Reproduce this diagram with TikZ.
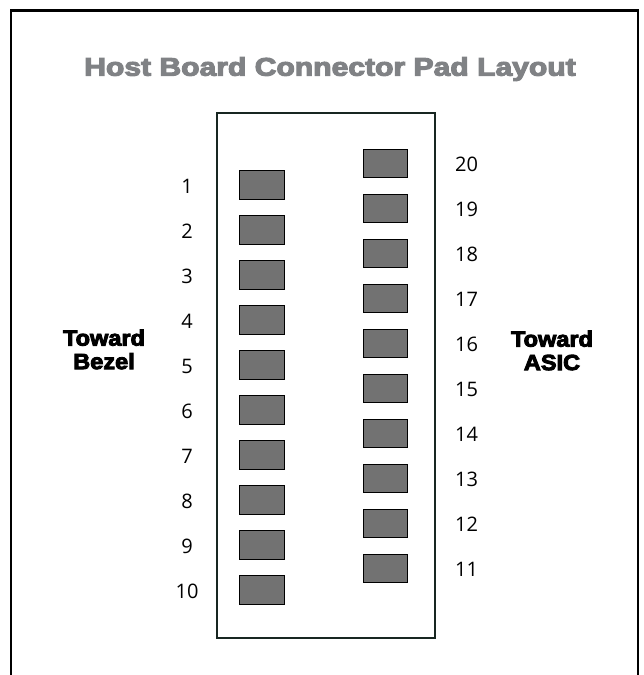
\documentclass[tikz,border=0pt]{standalone}
\usepackage{fontspec}
\setmainfont{Open Sans}
\newfontfamily\heavyfont{Liberation Sans}[BoldFeatures={FakeBold=4}]

\definecolor{titlegray}{RGB}{128,130,133}
\definecolor{padgray}{RGB}{114,114,114}
\definecolor{boardline}{RGB}{24,38,33}

\begin{document}
\begin{tikzpicture}[x=1pt,y=-1pt,
  pad/.style={draw=black, line width=0.9pt, fill=padgray, minimum width=44.5pt, minimum height=28.5pt, inner sep=0pt},
  padnum/.style={font=\fontsize{20}{24}\selectfont, inner sep=0pt},
  side/.style={font=\heavyfont\bfseries\fontsize{22}{23.5}\selectfont, align=center, inner sep=0pt}]

\useasboundingbox (0,0) rectangle (644,675);

% outer frame, open at the bottom
\draw[line width=2.2pt, black] (11,675) -- (11,10.5) -- (638,10.5) -- (638,675);

\node[anchor=base, text=titlegray, inner sep=0pt, font=\heavyfont\bfseries\fontsize{25.5}{28}\selectfont] (title) at (330,75.7) {\scalebox{1.18}[1]{Host Board Connector Pad Layout}};

\node[draw=boardline, line width=2pt, minimum width=218pt, minimum height=525pt, inner sep=0pt] (board) at (326,375.5) {};

% pads 1-10 on the bezel side, 11-20 on the asic side
\foreach \i in {1,...,10} {
  \node[pad] (p\i) at (261.7,{185+45*(\i-1)}) {};
  \node[padnum] (n\i) at (187,{186.5+45*(\i-1)}) {\i};
}
\foreach \i in {11,...,20} {
  \node[pad] (p\i) at (385.3,{163.5+45*(20-\i)}) {};
  \node[padnum] (n\i) at (466.5,{164.5+45*(20-\i)}) {\i};
}

\node[side] (bezel) at (104,349.5) {\scalebox{1.07}[1]{Toward}\\\scalebox{1.07}[1]{Bezel}};
\node[side] (asic) at (552,350.5) {\scalebox{1.07}[1]{Toward}\\\scalebox{1.07}[1]{ASIC}};

\end{tikzpicture}
\end{document}
